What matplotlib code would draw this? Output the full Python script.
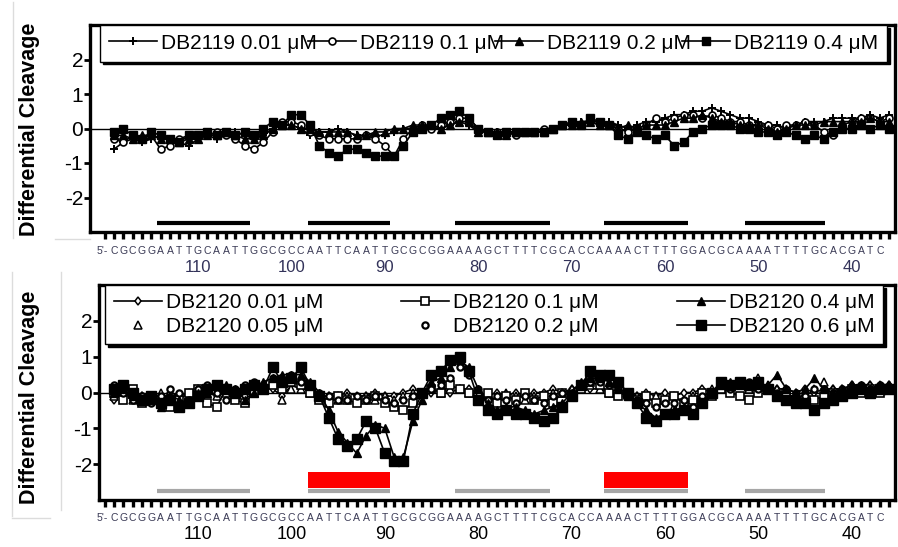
import numpy as np
import matplotlib
matplotlib.use('Agg')
import matplotlib.pyplot as plt
from matplotlib.lines import Line2D

plt.rcParams['font.family'] = ['Liberation Sans', 'DejaVu Sans']

# ---------------- data ----------------
positions = list(range(119, 35, -1))   # nucleotide positions 119 .. 36
tick_values = [110, 100, 90, 80, 70, 60, 50, 40]
sequence = "CGCGGAATTGCAATTGGCGCCAATTCAATTGCGCGGAAAAGCTTTTCGCACCAAAACTTTTGGACGCAAAATTTTGCACGATC"
seq_start = 119

top_labels = ['DB2119 0.01 μM', 'DB2119 0.1 μM', 'DB2119 0.2 μM', 'DB2119 0.4 μM']
bot_labels = ['DB2120 0.01 μM', 'DB2120 0.05 μM', 'DB2120 0.1 μM',
              'DB2120 0.2 μM', 'DB2120 0.4 μM', 'DB2120 0.6 μM']

top_001 = [-0.6,-0.4,-0.3,-0.4,-0.3,-0.2,-0.3,-0.4,-0.5,-0.3,
           -0.2,-0.3,-0.2,-0.1,-0.2,-0.3,-0.2,0.0,0.1,0.1,
           0.0,-0.2,-0.1,-0.1,0.0,-0.1,-0.2,-0.2,-0.2,-0.2,
           -0.1,0.0,0.0,0.1,0.0,0.0,0.1,0.2,0.1,-0.1,
           -0.1,-0.1,-0.1,-0.1,-0.1,-0.1,-0.1,0.0,0.1,0.1,
           0.2,0.2,0.1,0.2,0.1,0.0,0.1,0.2,0.2,0.3,
           0.4,0.4,0.5,0.5,0.6,0.5,0.4,0.3,0.3,0.2,
           0.1,0.1,0.0,0.1,0.2,0.2,0.2,0.3,0.3,0.3,
           0.3,0.4,0.3,0.4]
top_01 = [-0.3,-0.4,-0.2,-0.3,-0.2,-0.6,-0.5,-0.3,-0.2,-0.2,
          -0.2,-0.1,-0.2,-0.3,-0.5,-0.6,-0.4,-0.1,0.2,0.2,
          0.1,-0.1,-0.2,-0.3,-0.3,-0.3,-0.3,-0.2,-0.3,-0.5,
          -0.8,-0.3,0.0,0.1,0.0,0.1,0.2,0.3,0.3,0.0,
          -0.1,-0.1,-0.1,-0.2,-0.1,-0.1,0.0,0.0,0.1,0.1,
          0.1,0.2,0.2,0.1,0.0,-0.1,0.0,0.1,0.3,0.2,
          0.3,0.4,0.4,0.3,0.4,0.3,0.2,0.2,0.1,0.1,
          0.1,0.0,0.1,0.1,0.2,0.1,-0.1,-0.2,0.1,0.2,
          0.3,0.3,0.2,0.3]
top_02 = [-0.2,-0.2,-0.3,-0.2,-0.2,-0.3,-0.3,-0.4,-0.3,-0.3,
          -0.2,-0.2,-0.1,-0.2,-0.3,-0.3,-0.2,0.0,0.1,0.1,
          0.0,0.0,-0.1,-0.1,-0.1,-0.1,-0.2,-0.2,-0.1,-0.1,
          0.0,0.0,0.1,0.1,0.1,0.0,0.1,0.2,0.2,-0.1,
          -0.1,-0.1,-0.2,-0.1,-0.1,-0.1,-0.1,0.0,0.1,0.1,
          0.2,0.2,0.1,0.1,0.0,0.1,0.0,0.1,0.1,0.1,
          0.2,0.3,0.3,0.4,0.3,0.2,0.2,0.1,0.1,0.1,
          0.0,-0.1,0.0,0.1,0.1,0.1,0.2,0.2,0.2,0.2,
          0.2,0.3,0.2,0.2]
top_04 = [-0.1,0.0,-0.2,-0.3,-0.1,-0.2,-0.3,-0.4,-0.2,-0.2,
          -0.1,-0.2,-0.1,-0.2,-0.1,-0.2,0.0,0.2,0.1,0.4,
          0.4,0.1,-0.5,-0.7,-0.8,-0.6,-0.6,-0.7,-0.8,-0.8,
          -0.8,-0.5,-0.1,0.0,0.1,0.3,0.4,0.5,0.3,0.0,
          -0.1,-0.2,-0.1,-0.1,-0.1,-0.1,-0.1,0.0,0.1,0.2,
          0.1,0.3,0.2,0.1,-0.2,-0.3,-0.1,-0.2,-0.3,-0.2,
          -0.5,-0.4,-0.1,0.0,0.1,0.1,0.1,0.0,0.0,-0.1,
          -0.1,-0.2,-0.1,-0.2,-0.3,-0.2,-0.3,-0.1,0.0,0.0,
          0.1,0.0,0.1,0.0]

bot_001 = [-0.2,0.1,0.0,-0.1,-0.1,-0.2,0.0,-0.1,0.0,0.1,
           0.0,-0.1,0.1,0.0,-0.1,0.1,0.2,0.1,-0.1,0.2,
           0.1,0.1,-0.1,-0.1,-0.1,0.0,-0.1,-0.1,0.0,-0.1,
           -0.1,0.0,0.1,0.0,0.0,0.1,0.0,0.1,0.1,0.0,
           -0.1,0.0,-0.1,0.0,-0.1,0.0,0.0,0.1,0.0,0.1,
           0.2,0.1,0.1,0.0,0.1,0.0,-0.1,0.0,-0.1,0.0,
           -0.1,0.0,0.0,0.1,0.0,0.1,0.1,0.2,0.1,0.2,
           0.1,0.1,0.1,0.0,0.1,0.0,0.1,0.1,0.1,0.2,
           0.1,0.2,0.1,0.2]
bot_005 = [-0.1,0.0,-0.2,-0.1,-0.2,0.0,-0.1,-0.3,-0.1,0.0,
           0.1,-0.1,0.0,-0.1,0.1,0.0,0.2,0.3,-0.2,0.1,
           0.1,0.0,-0.1,-0.1,-0.2,-0.1,-0.2,-0.1,-0.2,-0.1,
           -0.2,-0.1,0.0,0.0,0.1,0.0,0.1,0.1,0.0,0.0,
           -0.1,-0.1,0.0,-0.1,-0.2,-0.1,-0.1,0.0,0.0,0.1,
           0.1,0.2,0.1,0.0,0.0,-0.1,-0.1,-0.2,-0.1,-0.2,
           -0.4,-0.2,-0.1,0.0,0.1,0.1,0.2,0.2,0.1,0.4,
           0.2,0.1,0.1,0.0,0.0,0.1,0.3,0.1,0.1,0.2,
           0.1,0.2,0.2,0.2]
bot_01 = [0.0,-0.2,0.1,-0.3,-0.1,-0.3,-0.4,-0.2,0.0,0.1,
          -0.3,-0.4,0.1,-0.2,-0.3,0.0,0.1,0.2,0.1,0.3,
          0.2,0.0,-0.2,-0.3,-0.1,-0.2,-0.3,-0.2,-0.1,-0.3,
          -0.4,-0.5,-0.3,0.0,0.1,0.0,0.2,0.1,0.0,-0.1,
          0.0,-0.3,-0.1,-0.2,0.0,-0.2,-0.1,-0.3,0.0,-0.1,
          0.1,0.3,0.2,0.0,-0.1,0.0,-0.2,-0.1,-0.3,-0.2,
          -0.1,-0.3,-0.2,0.0,-0.1,0.1,0.0,-0.1,-0.2,0.0,
          0.1,-0.1,0.0,-0.2,-0.3,-0.2,-0.1,0.0,0.0,0.1,
          0.0,0.1,0.0,0.1]
bot_02 = [0.2,0.0,-0.2,-0.1,-0.3,-0.1,0.1,0.0,-0.2,0.1,
          0.2,0.0,-0.2,0.1,0.2,0.3,0.2,0.4,0.3,0.5,
          0.3,0.2,0.0,-0.1,-0.2,-0.2,-0.1,-0.2,-0.1,-0.2,
          -0.3,-0.2,-0.1,0.0,0.1,0.2,0.4,0.7,0.5,0.1,
          -0.2,-0.1,-0.2,-0.3,-0.1,-0.2,-0.3,-0.1,0.0,0.0,
          0.2,0.3,0.3,0.2,0.1,0.0,-0.2,-0.3,-0.4,-0.3,
          -0.3,-0.2,-0.4,-0.1,0.0,0.2,0.1,0.2,0.3,0.1,
          0.1,0.0,0.1,0.0,-0.1,0.1,0.1,0.0,0.1,0.1,
          0.2,0.1,0.2,0.1]
bot_04 = [0.0,0.1,-0.1,-0.2,-0.2,-0.4,-0.1,-0.2,-0.3,0.0,
          0.0,0.2,0.2,0.1,-0.2,0.0,0.3,0.4,0.5,0.5,
          0.5,0.3,0.0,-0.5,-1.1,-1.4,-1.7,-1.2,-0.9,-1.0,
          -1.8,-1.8,-0.8,-0.2,0.3,0.4,0.7,0.9,0.7,0.1,
          -0.3,-0.5,-0.4,-0.4,-0.5,-0.6,-0.5,-0.4,-0.3,0.0,
          0.3,0.4,0.4,0.3,0.1,-0.1,-0.3,-0.5,-0.7,-0.6,
          -0.5,-0.4,-0.6,-0.3,0.0,0.2,0.3,0.2,0.2,0.2,
          0.2,0.5,0.1,0.0,0.1,0.4,0.1,0.0,0.1,0.2,
          0.2,0.1,0.2,0.2]
bot_06 = [0.1,0.2,0.0,-0.2,-0.1,-0.3,-0.2,-0.4,-0.3,-0.1,
          0.1,0.2,0.1,0.0,0.1,0.2,0.1,0.7,0.3,0.4,
          0.7,0.2,-0.1,-0.7,-1.3,-1.5,-1.3,-0.8,-1.0,-1.7,
          -1.9,-1.9,-0.6,0.0,0.5,0.6,0.9,1.0,0.6,-0.2,
          -0.5,-0.6,-0.5,-0.6,-0.6,-0.7,-0.8,-0.7,-0.4,-0.1,
          0.2,0.6,0.5,0.5,0.3,0.0,-0.3,-0.7,-0.8,-0.6,
          -0.6,-0.5,-0.6,-0.3,0.0,0.3,0.2,0.3,0.2,0.3,
          0.1,-0.1,-0.2,-0.3,-0.3,-0.5,-0.3,-0.2,-0.1,0.0,
          0.1,0.0,0.1,0.1]

# binding-site bars (start, end positions)
site_start = [114.4, 98.2, 82.5, 66.5, 51.4]
site_end = [104.4, 89.4, 72.3, 57.5, 42.9]
red_sites = [1, 3]   # sites highlighted for DB2120

# ---------------- figure ----------------
W, H = 898, 547
fig = plt.figure(figsize=(W / 100, H / 100), dpi=100)
ax1 = fig.add_axes([90 / W, 1 - 232 / H, 805 / W, 207 / H])
ax2 = fig.add_axes([99 / W, 1 - 500 / H, 796 / W, 215 / H])


def style_axes(ax, xleft, seq_off, num_off, num_size, num_color):
    ax.set_xlim(xleft, 35.37)
    ax.set_ylim(-3, 3)
    ax.set_yticks([-2, -1, 0, 1, 2])
    ax.set_yticklabels(['-2', '-1', '0', '1', '2'], fontsize=15)
    ax.tick_params(axis='y', direction='out', length=4, width=2, pad=1)
    ax.set_xticks(list(range(120, 35, -1)))
    ax.tick_params(axis='x', direction='out', length=5, width=2.4,
                   labelbottom=False, color='black')
    for s in ax.spines.values():
        s.set_linewidth(2.4)
    ax.axhline(0, color='black', lw=1, zorder=1)
    # sequence letters
    ax.annotate("5'-", xy=(seq_start + 1.3, 0), xycoords=('data', 'axes fraction'),
                xytext=(0, seq_off), textcoords='offset points',
                ha='center', va='center', fontsize=7.5, color='#3a3a55')
    for i, ch in enumerate(sequence):
        ax.annotate(ch, xy=(seq_start - i, 0), xycoords=('data', 'axes fraction'),
                    xytext=(0, seq_off), textcoords='offset points',
                    ha='center', va='center', fontsize=7.5, color='#3a3a55')
    for tv in tick_values:
        ax.annotate(str(tv), xy=(tv, 0), xycoords=('data', 'axes fraction'),
                    xytext=(0, num_off), textcoords='offset points',
                    ha='center', va='center', fontsize=num_size, color=num_color)


style_axes(ax1, 121.56, -14, -25.5, 12, '#33335a')
style_axes(ax2, 120.6, -13, -25, 13, 'black')

# ---- top panel ----
ms_kw = dict(color='black', lw=1.2)
ax1.plot(positions, top_001, marker='+', ms=6, mew=1.4, label=top_labels[0], **ms_kw)
ax1.plot(positions, top_01, marker='o', ms=5, mfc='white', mec='black', mew=1.2,
         label=top_labels[1], **ms_kw)
ax1.plot(positions, top_02, marker='^', ms=5.5, mfc='black', label=top_labels[2], **ms_kw)
ax1.plot(positions, top_04, marker='s', ms=6, mfc='black', label=top_labels[3], **ms_kw)

for s, e in zip(site_start, site_end):
    ax1.plot([s, e], [-2.75, -2.75], color='black', lw=3, solid_capstyle='butt')

leg1 = ax1.legend(ncol=4, loc='upper left', mode='expand',
                  bbox_to_anchor=(0.0124, 0.0, 0.978, 1.0), borderaxespad=0,
                  fontsize=15, handlelength=2.3, handletextpad=0.2,
                  columnspacing=0.3, borderpad=0.42, frameon=True, fancybox=False,
                  edgecolor='black', framealpha=1,
                  shadow={'color': 'black', 'alpha': 1})
leg1.get_frame().set_linewidth(1.0)

# ---- bottom panel ----
ax2.plot(positions, bot_001, marker='d', ms=4.5, mfc='white', mec='black', mew=1.1,
         label=bot_labels[0], **ms_kw)
ax2.plot(positions, bot_005, ls='none', marker='^', ms=5.5, mfc='white', mec='black',
         mew=1.1, label=bot_labels[1])
ax2.plot(positions, bot_01, marker='s', ms=6, mfc='white', mec='black', mew=1.2,
         label=bot_labels[2], **ms_kw)
ax2.plot(positions, bot_02, ls='none', marker='o', ms=4.5, mfc='white', mec='black',
         mew=1.6, label=bot_labels[3])
ax2.plot(positions, bot_04, marker='^', ms=6, mfc='black', label=bot_labels[4], **ms_kw)
ax2.plot(positions, bot_06, marker='s', ms=6.5, mfc='black', label=bot_labels[5], **ms_kw)

for i, (s, e) in enumerate(zip(site_start, site_end)):
    ax2.plot([s, e], [-2.75, -2.75], color='#a6a6a6', lw=3, solid_capstyle='butt')
    if i in red_sites:
        ax2.fill_between([s, e], -2.66, -2.22, color='#ff0000', lw=0)

leg2 = ax2.legend(ncol=3, loc='upper left', mode='expand',
                  bbox_to_anchor=(0.008, 0.0, 0.977, 1.0), borderaxespad=0,
                  fontsize=15, handlelength=2.3, handletextpad=0.2,
                  columnspacing=1.0, borderpad=0.4, labelspacing=0.22,
                  frameon=True, fancybox=False, edgecolor='black', framealpha=1,
                  shadow={'color': 'black', 'alpha': 1})
leg2.get_frame().set_linewidth(1.0)

# y labels
fig.text(30 / W, 1 - 129 / H, 'Differential Cleavage', rotation=90, ha='center',
         va='center', fontsize=15.5, fontweight='bold')
fig.text(30 / W, 1 - 397 / H, 'Differential Cleavage', rotation=90, ha='center',
         va='center', fontsize=15.5, fontweight='bold')

# faint frame remnants around the y labels
for (x0, y0, x1, y1) in [(13, 2, 13, 238), (55, 239, 90, 239),
                         (12, 272, 12, 516), (12, 518, 50, 518), (61, 272, 61, 510)]:
    fig.add_artist(Line2D([x0 / W, x1 / W], [1 - y0 / H, 1 - y1 / H],
                          color='#dcdcdc', lw=1))

fig.savefig('out.png', dpi=100)
